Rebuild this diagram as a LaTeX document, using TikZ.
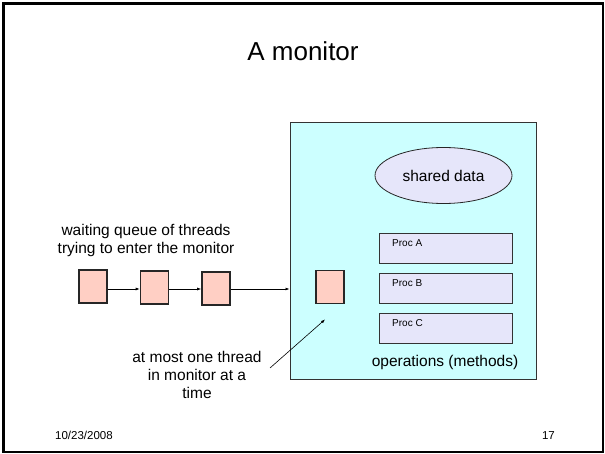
\documentclass[tikz,border=0pt]{standalone}
\usepackage{fontspec}
\setmainfont{Liberation Sans}
\usetikzlibrary{shapes.geometric,arrows.meta}
\definecolor{monfill}{HTML}{CCFFFF}
\definecolor{lav}{HTML}{E6E6FA}
\definecolor{peach}{HTML}{FFCFC4}
\tikzset{
  thread/.style={draw=black!85, line width=1.6pt, fill=peach, minimum width=28pt, minimum height=33pt, inner sep=0pt},
  procbox/.style={draw=black!80, line width=0.8pt, fill=lav, minimum width=133pt, minimum height=30pt, inner sep=0pt},
  link/.style={-{Latex[length=4pt,width=3pt]}, line width=0.6pt},
  lbl/.style={font=\fontsize{15.5}{18}\selectfont, align=center, inner sep=0pt},
  small/.style={font=\fontsize{10}{12}\selectfont, inner sep=0pt},
  foot/.style={font=\fontsize{11.5}{13}\selectfont, inner sep=0pt}
}
\begin{document}
\begin{tikzpicture}[x=1pt,y=-1pt]
\useasboundingbox (0,0) rectangle (605,454);
\draw[line width=2.6pt] (3.5,3.5) rectangle (603,452);
\node[font=\fontsize{26}{30}\selectfont, inner sep=0pt] (title) at (303,51) {A monitor};
\node[draw=black!80, line width=0.8pt, fill=monfill, minimum width=246pt, minimum height=256pt, inner sep=0pt, anchor=north west] (mon) at (289.5,122.5) {};
\node[ellipse, draw=black!85, line width=0.8pt, fill=lav, minimum width=137pt, minimum height=56pt, inner sep=0pt] (sd) at (443.5,175.5) {};
\node[lbl] (sdt) at (sd.center) {shared data};
\node[procbox] (pa) at (445.5,248) {};
\node[procbox] (pb) at (445.5,288) {};
\node[procbox] (pc) at (445.5,328) {};
\node[small, anchor=west] (pat) at (392,243) {Proc A};
\node[small, anchor=west] (pbt) at (392,283) {Proc B};
\node[small, anchor=west] (pct) at (392,323) {Proc C};
\node[lbl] (ops) at (445,362) {operations (methods)};
\node[thread] (t1) at (93,286.5) {};
\node[thread] (t2) at (154.5,287.5) {};
\node[thread] (t3) at (216,288.5) {};
\node[thread] (t4) at (330,287) {};
\draw[link] (t1.east |- 0,289) -- (t2.west |- 0,289);
\draw[link] (t2.east |- 0,289) -- (t3.west |- 0,289);
\draw[link] (t3.east |- 0,289) -- (mon.west |- 0,289);
\node[lbl] (wq) at (146,240.5) {waiting queue of threads\\trying to enter the monitor};
\node[lbl] (one) at (197,375) {at most one thread\\in monitor at a\\time};
\coordinate (astart) at (270,368);
\coordinate (aend) at (325,319.5);
\draw[link] (astart) -- (aend);
\node[foot, anchor=base west] (date) at (55,439.5) {10/23/2008};
\node[foot, anchor=base east] (num) at (555,439.5) {17};
\end{tikzpicture}
\end{document}
